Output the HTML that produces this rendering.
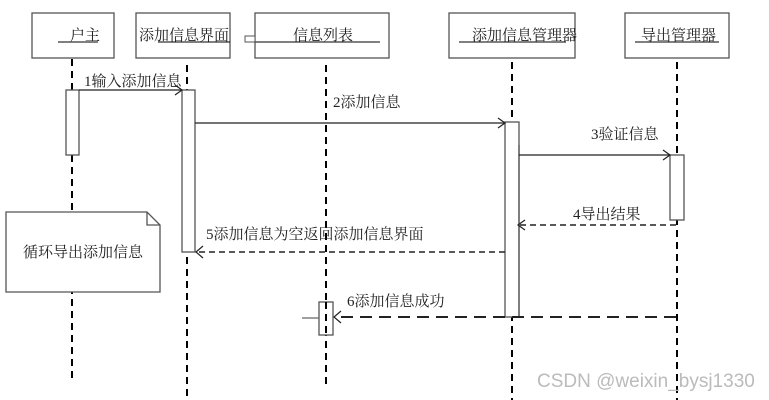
<!DOCTYPE html>
<html><head><meta charset="utf-8"><style>
html,body{margin:0;padding:0;background:#fff;width:769px;height:400px;overflow:hidden}
svg{display:block}
text{font-family:"Liberation Serif","Noto Serif CJK SC","Noto Sans CJK SC",serif;font-size:15px;fill:#222}
</style></head><body>
<svg width="769" height="400" viewBox="0 0 769 400" xmlns="http://www.w3.org/2000/svg">
<g fill="#fff" stroke="#555" stroke-width="1.3">
<rect x="32" y="13" width="82" height="45"/>
<rect x="136" y="13" width="94" height="45"/>
<rect x="255" y="13" width="134" height="45"/>
<rect x="449" y="13" width="126" height="45"/>
<rect x="625" y="13" width="104" height="45"/>
</g>
<g stroke="#000" stroke-width="1">
<line x1="58" y1="42" x2="98" y2="42"/>
<line x1="158" y1="42" x2="230" y2="42"/>
<line x1="245" y1="42" x2="380" y2="42"/>
<line x1="459" y1="42" x2="566" y2="42"/>
<line x1="635" y1="42" x2="719" y2="42"/>
</g>
<rect x="245" y="36" width="10" height="6" fill="#fff" stroke="#555"/>
<text x="70" y="40">户主</text>
<text x="139" y="40">添加信息界面</text>
<text x="293" y="40">信息列表</text>
<text x="472" y="40">添加信息管理器</text>
<text x="641" y="40">导出管理器</text>
<g stroke="#000" stroke-width="2" stroke-dasharray="7,5">
<line x1="72" y1="59" x2="72" y2="380"/>
<line x1="187" y1="65" x2="187" y2="400"/>
<line x1="326" y1="65" x2="326" y2="386"/>
<line x1="512" y1="62" x2="512" y2="400"/>
<line x1="677" y1="62" x2="677" y2="400"/>
</g>
<path d="M6,212 H147 L160,225 V292 H6 Z" fill="#fff" stroke="#555" stroke-width="1.3"/>
<path d="M147,212 V225 H160" fill="none" stroke="#555" stroke-width="1.3"/>
<text x="23" y="257">循环导出添加信息</text>
<g fill="#fff" stroke="#555" stroke-width="1.3">
<rect x="66" y="90" width="13" height="65"/>
<rect x="182" y="90" width="13" height="162"/>
<rect x="505" y="122" width="14" height="195"/>
<rect x="670" y="155" width="14" height="65"/>
<rect x="319" y="302" width="14" height="33"/>
</g>
<line x1="519" y1="145" x2="519" y2="317" stroke="#555" stroke-width="1.3"/>
<line x1="326" y1="302" x2="326" y2="335" stroke="#000" stroke-width="2" stroke-dasharray="7,5"/>
<line x1="302" y1="318" x2="319" y2="318" stroke="#666" stroke-width="1.3"/>
<g fill="none" stroke="#222" stroke-width="1.2">
<line x1="79" y1="90" x2="182" y2="90"/><path d="M175,85 L182,90 L175,95"/>
<line x1="195" y1="123" x2="505" y2="123"/><path d="M498,118 L505,123 L498,128"/>
<line x1="519" y1="155" x2="670" y2="155"/><path d="M663,150 L670,155 L663,160"/>
</g>
<g fill="none" stroke="#222" stroke-width="1.5" stroke-dasharray="6,4">
<line x1="676" y1="225" x2="518" y2="225"/>
<line x1="505" y1="252" x2="196" y2="252"/>
</g>
<g fill="none" stroke="#222" stroke-width="2" stroke-dasharray="12,7">
<line x1="676" y1="317" x2="334" y2="317"/>
</g>
<g fill="none" stroke="#222" stroke-width="1.2">
<path d="M525,220 L518,225 L525,230"/>
<path d="M203,246 L196,252 L203,258"/>
<path d="M341,311 L334,317 L341,323"/>
</g>
<text x="84" y="86">1输入添加信息</text>
<text x="333" y="107">2添加信息</text>
<text x="591" y="139">3验证信息</text>
<text x="573" y="219">4导出结果</text>
<text x="206" y="239">5添加信息为空返回添加信息界面</text>
<text x="347" y="306">6添加信息成功</text>
<text x="537" y="387" style="font-family:'Liberation Sans',sans-serif;font-size:19px;fill:#bbb">CSDN @weixin_bysj1330</text>
</svg>
</body></html>
